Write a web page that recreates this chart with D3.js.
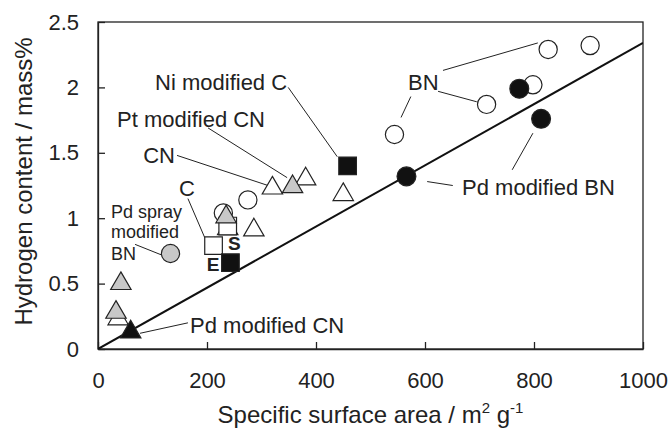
<!DOCTYPE html>
<html>
<head>
	<meta charset="utf-8" />
	<style>
		body { margin: 0; background-color: #fff; }
		svg text { font-family: 'Liberation Sans', Arial, sans-serif; fill: #222; }
		.axis path, .axis line { stroke: #222; stroke-width: 1.3px; }
		.axis text { font-size: 22px; fill: #222; font-family: 'Liberation Sans', Arial, sans-serif; }
		.frame { fill: none; stroke: #222; stroke-width: 1.3px; }
		.fitLine { stroke: #111; stroke-width: 2px; fill: none; }
		.leader { stroke: #222; stroke-width: 1px; fill: none; }
		.lbl { font-size: 22px; }
		.lblSmall { font-size: 18px; }
		.lblBold { font-size: 19px; font-weight: bold; }
	</style>
</head>
<body>
<script src="https://d3js.org/d3.v7.min.js"></script>
<script>

//// Data (specific surface area m2/g, hydrogen content mass%) ////
var bnOpen = [[230,1.04],[275,1.14],[544,1.64],[713,1.87],[798,2.02],[826,2.29],[903,2.32]];
var cnOpen = [[320,1.23],[381,1.30],[450,1.18],[286,0.91],[238,0.92],[37,0.23]];
var cOpen = [[212,0.79],[238,0.94]];
var grayCircle = [[133,0.73]];
var grayTri = [[357,1.24],[235,1.01],[42,0.50],[33,0.28]];
var pdBN = [[566,1.32],[773,1.99],[813,1.76]];
var pdCN = [[60,0.13]];
var niC = [[458,1.40],[243,0.66]];

var fitLine = [[0,0],[1000,2.34]];

var xTicks = [0,200,400,600,800,1000];
var xTickLabels = ['0','200','400','600','800','1000'];
var yTicks = [0,0.5,1,1.5,2,2.5];
var yTickLabels = ['0','0.5','1','1.5','2','2.5'];

// labels: text, x, y (data units), anchor, class
var labels = [
	['Ni modified C', 347, 1.98, 'end', 'lbl'],
	['Pt modified CN', 35, 1.70, 'start', 'lbl'],
	['CN', 83, 1.42, 'start', 'lbl'],
	['C', 163, 1.17, 'middle', 'lbl'],
	['Pd spray', 24, 1.00, 'start', 'lblSmall'],
	['modified', 24, 0.85, 'start', 'lblSmall'],
	['BN', 24, 0.68, 'start', 'lblSmall'],
	['Pd modified CN', 169, 0.12, 'start', 'lbl'],
	['Pd modified BN', 668, 1.18, 'start', 'lbl'],
	['BN', 569, 1.98, 'start', 'lbl'],
	['E', 211, 0.60, 'middle', 'lblBold'],
	['S', 250, 0.76, 'middle', 'lblBold']
];

// leader lines: x1, y1, x2, y2 (data units)
var leaders = [
	[349,2.00,439,1.47],
	[202,1.69,347,1.31],
	[145,1.48,312,1.25],
	[165,1.15,196,0.85],
	[68,0.80,116,0.72],
	[77,0.12,165,0.20],
	[604,1.28,651,1.25],
	[760,1.37,798,1.65],
	[633,2.13,807,2.34],
	[624,1.97,695,1.89],
	[574,1.93,556,1.77]
];

//// Chart ////
var margin = {top: 22, right: 28, bottom: 90, left: 98},
    width = 671 - margin.left - margin.right,
    height = 439 - margin.top - margin.bottom;

var x = d3.scaleLinear().domain([0, 1000]).range([0, width]);
var y = d3.scaleLinear().domain([0, 2.5]).range([height, 0]);

var svg = d3.select('body').append('svg')
    .attr('width', 671)
    .attr('height', 439)
  .append('g')
    .attr('transform', 'translate(' + margin.left + ',' + margin.top + ')');

svg.append('defs').append('clipPath').attr('id', 'plotClip')
  .append('rect').attr('width', width).attr('height', height);

// frame
svg.append('rect').attr('class', 'frame')
    .attr('width', width).attr('height', height);

// axes with inward ticks
svg.append('g')
    .attr('class', 'axis')
    .attr('transform', 'translate(0,' + height + ')')
    .call(d3.axisBottom(x).tickValues(xTicks).tickSize(-7).tickPadding(23).tickSizeOuter(0)
        .tickFormat(function (d, i) { return xTickLabels[i]; }));

svg.append('g')
    .attr('class', 'axis')
    .call(d3.axisLeft(y).tickValues(yTicks).tickSize(-7).tickPadding(19).tickSizeOuter(0)
        .tickFormat(function (d, i) { return yTickLabels[i]; }));

// axis titles
var xt = svg.append('text')
    .attr('x', width / 2).attr('y', height + 74)
    .attr('text-anchor', 'middle').style('font-size', '24px');
xt.append('tspan').text('Specific surface area / m');
xt.append('tspan').attr('dy', -10).style('font-size', '15px').text('2');
xt.append('tspan').attr('dy', 10).text(' g');
xt.append('tspan').attr('dy', -10).style('font-size', '15px').text('-1');

svg.append('text')
    .attr('transform', 'translate(' + (-66) + ',' + (height / 2 - 4) + ') rotate(-90)')
    .attr('text-anchor', 'middle').style('font-size', '24px')
    .text('Hydrogen content / mass%');

// diagonal line
svg.append('path')
    .datum(fitLine)
    .attr('class', 'fitLine')
    .attr('clip-path', 'url(#plotClip)')
    .attr('d', d3.line().x(function (d) { return x(d[0]); }).y(function (d) { return y(d[1]); }));

// leader lines
svg.selectAll('.leader')
    .data(leaders)
    .enter().append('line')
    .attr('class', 'leader')
    .attr('x1', function (d) { return x(d[0]); })
    .attr('y1', function (d) { return y(d[1]); })
    .attr('x2', function (d) { return x(d[2]); })
    .attr('y2', function (d) { return y(d[3]); });

// markers
function addMarkers(data, type, size, fill) {
	svg.append('g').selectAll('path')
		.data(data)
		.enter().append('path')
		.attr('transform', function (d) { return 'translate(' + x(d[0]) + ',' + y(d[1]) + ')'; })
		.attr('d', d3.symbol().type(type).size(size))
		.attr('fill', fill)
		.attr('stroke', '#222')
		.attr('stroke-width', 1.2);
}

addMarkers(bnOpen, d3.symbolCircle, 260, '#fff');
addMarkers(cnOpen, d3.symbolTriangle, 180, '#fff');
addMarkers(cOpen, d3.symbolSquare, 310, '#fff');
addMarkers(grayCircle, d3.symbolCircle, 260, '#c8c8c8');
addMarkers(grayTri, d3.symbolTriangle, 180, '#c8c8c8');
addMarkers(pdBN, d3.symbolCircle, 280, '#111');
addMarkers(pdCN, d3.symbolTriangle, 180, '#111');
addMarkers(niC, d3.symbolSquare, 310, '#111');

// labels
svg.selectAll('.labelText')
    .data(labels)
    .enter().append('text')
    .attr('class', function (d) { return 'labelText ' + d[4]; })
    .attr('x', function (d) { return x(d[1]); })
    .attr('y', function (d) { return y(d[2]); })
    .attr('text-anchor', function (d) { return d[3]; })
    .text(function (d) { return d[0]; });

</script>
</body>
</html>
